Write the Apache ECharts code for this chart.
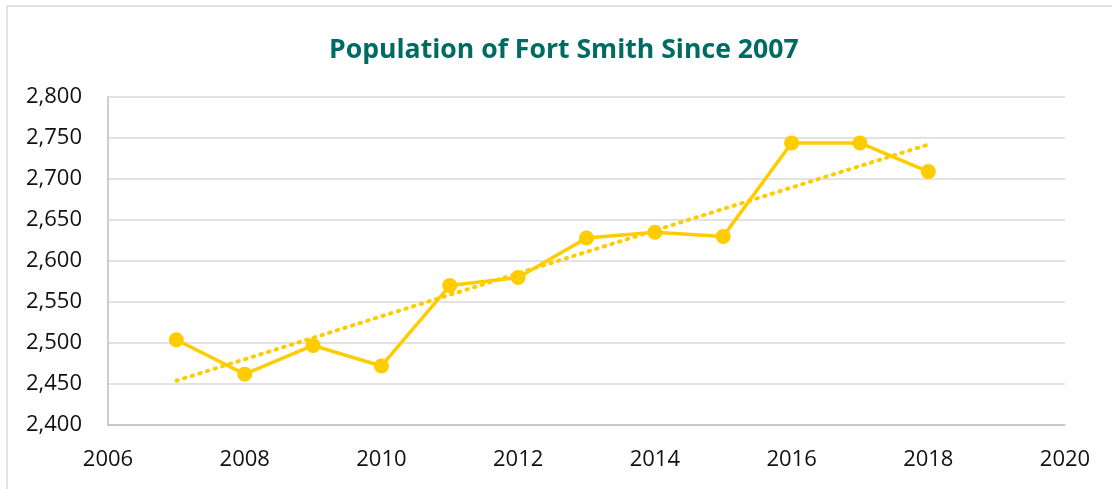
<!DOCTYPE html>
<html>
<head>
<meta charset="utf-8">
<script src="https://cdn.jsdelivr.net/npm/echarts@6/dist/echarts.min.js"></script>
<style>
    html, body { margin: 0; padding: 0; background: #fff; }
    #chart { width: 1112px; height: 489px; }
</style>
</head>
<body>
<div id="chart"></div>
<script>
    // values
    var years = [2007, 2008, 2009, 2010, 2011, 2012, 2013, 2014, 2015, 2016, 2017, 2018];
    var population = [2504, 2462, 2497, 2472, 2570, 2580, 2628, 2635, 2630, 2744, 2744, 2709];
    var trendYears = [2007, 2018];
    var trendValues = [2454, 2742];

    var yellow = '#FFCC00';
    var font = 'Open Sans';

    function pairs(xs, ys) {
        var out = [];
        for (var i = 0; i < xs.length; i++) {
            out.push([xs[i], ys[i]]);
        }
        return out;
    }

    var chart = echarts.init(document.getElementById('chart'));
    chart.setOption({
        backgroundColor: '#fff',
        animation: false,
        title: {
            text: 'Population of Fort Smith Since 2007',
            left: 324,
            top: 32,
            textStyle: { fontFamily: font, fontSize: 26.6, fontWeight: 'bold', color: '#006B63' }
        },
        graphic: [{
            type: 'rect',
            shape: { x: 7, y: 6, width: 1200, height: 600 },
            style: { fill: 'none', stroke: '#d9d9d9', lineWidth: 1.5 },
            silent: true
        }],
        grid: { left: 108, right: 47, top: 97, bottom: 64 },
        xAxis: {
            type: 'value',
            min: 2006,
            max: 2020,
            interval: 2,
            axisLine: { show: true, lineStyle: { color: '#bfbfbf', width: 1.5 } },
            axisTick: { show: false },
            splitLine: { show: false },
            axisLabel: {
                margin: 24,
                fontFamily: font,
                fontSize: 22,
                color: '#111',
                formatter: function (v) { return String(v); }
            }
        },
        yAxis: {
            type: 'value',
            min: 2400,
            max: 2800,
            interval: 50,
            axisLine: { show: true, lineStyle: { color: '#bfbfbf', width: 1.5 } },
            axisTick: { show: false },
            splitLine: { lineStyle: { color: '#d9d9d9', width: 1.5 } },
            axisLabel: {
                margin: 26,
                fontFamily: font,
                fontSize: 22,
                color: '#111',
                formatter: function (v) { return v.toLocaleString('en-US'); }
            }
        },
        series: [{
            type: 'line',
            data: pairs(trendYears, trendValues),
            showSymbol: false,
            lineStyle: { color: yellow, width: 4, type: [1.5, 6.5], cap: 'round' },
            z: 2
        }, {
            type: 'line',
            data: pairs(years, population),
            symbol: 'circle',
            symbolSize: 15,
            itemStyle: { color: yellow },
            lineStyle: { color: yellow, width: 3.5 },
            z: 3
        }]
    });
</script>
</body>
</html>
